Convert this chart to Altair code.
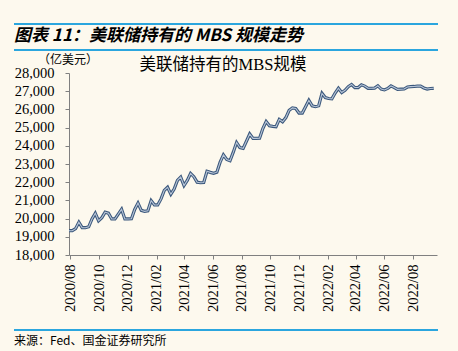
import altair as alt
import pandas as pd

# Weekly holdings of MBS by the Fed (100 million USD)
start_date = "2020-07-29"
values = [
    19335, 19335, 19450, 19800, 19500, 19500, 19550, 19980, 20290, 19880,
    20050, 20350, 20300, 19980, 19980, 20250, 20510, 19980, 19980, 19990,
    20500, 20850, 20450, 20400, 20430, 20990, 20750, 20750, 21080, 21550,
    21720, 21340, 21620, 22100, 22280, 21820, 22100, 22480, 22300, 22000,
    21970, 21980, 22600, 22540, 22490, 22550, 23100, 23500, 23250, 23180,
    23650, 24180, 23900, 23860, 24250, 24650, 24410, 24410, 24420, 24950,
    25330, 25100, 25070, 25050, 25450, 25320, 25550, 25950, 26080, 26050,
    25800, 25800, 26150, 26500, 26200, 26150, 26200, 26880, 26650, 26600,
    26580, 26900, 27160, 26930, 27050, 27250, 27370, 27200, 27200, 27350,
    27280, 27160, 27160, 27170, 27300, 27120, 27070, 27150, 27290, 27200,
    27100, 27110, 27120, 27230, 27250, 27260, 27280, 27280, 27180, 27120,
    27150, 27160,
]
dates = pd.date_range(start_date, periods=len(values), freq="7D")
df = pd.DataFrame({"date": dates.strftime("%Y-%m-%dT00:00:00"), "value": values})

tick_months = [(2020, 8), (2020, 10), (2020, 12), (2021, 2), (2021, 4), (2021, 6),
               (2021, 8), (2021, 10), (2021, 12), (2022, 2), (2022, 4), (2022, 6), (2022, 8)]
y_ticks = [18000, 19000, 20000, 21000, 22000, 23000, 24000, 25000, 26000, 27000, 28000]

title_text = "图表 11：美联储持有的 MBS 规模走势"
unit_text = "（亿美元）"
chart_title = "美联储持有的MBS规模"
source_text = "来源：Fed、国金证券研究所"

BG = "#FDF9EE"
BLUE = "#2BA6DE"
SERIF = "Liberation Serif, Times New Roman, Noto Sans CJK SC"
CJK = "Noto Sans CJK SC"

x_enc = alt.X(
    "date:T",
    scale=alt.Scale(domain=[alt.DateTime(year=2020, month=7, date=29),
                            alt.DateTime(year=2022, month=9, date=21)]),
    axis=alt.Axis(
        values=[alt.DateTime(year=y, month=m, date=1) for y, m in tick_months],
        format="%Y/%m", labelAngle=270, title=None, grid=False,
        labelFont=SERIF, labelFontSize=14.5, labelColor="#000",
        labelPadding=5, tickSize=4, tickColor="#808080",
        domainColor="#808080", labelAlign="right", labelBaseline="middle",
    ),
)
y_enc = alt.Y(
    "value:Q",
    scale=alt.Scale(domain=[18000, 28000], nice=False, zero=False),
    axis=alt.Axis(
        values=y_ticks, format=",d", title=None, grid=False,
        labelFont=SERIF, labelFontSize=14.5, labelColor="#000",
        labelPadding=11, tickSize=4, tickColor="#808080",
        domainColor="#808080",
    ),
)

outer = alt.Chart(df).mark_line(color="#3B587C", strokeWidth=3.2).encode(x=x_enc, y=y_enc)
inner = alt.Chart(df).mark_line(color="#B9C6D8", strokeWidth=1.1).encode(x=x_enc, y=y_enc)

one = alt.Data(values=[{"k": 1}])


def hline(y):
    return alt.Chart(one).mark_rule(color=BLUE, strokeWidth=2).encode(
        x=alt.value(-55), x2=alt.value(369), y=alt.value(y))


def label(text, x, y, size, font, align="left", weight="normal", style="normal"):
    return alt.Chart(one).mark_text(
        align=align, baseline="middle", fontSize=size, font=font,
        fontWeight=weight, fontStyle=style, color="#000",
    ).encode(x=alt.value(x), y=alt.value(y), text=alt.value(text))


layers = [
    outer, inner,
    hline(-49), hline(-23), hline(257),
    label(title_text, -55, -37, 17, CJK, weight="bold", style="italic"),
    label(unit_text, -31, -13, 12, SERIF),
    label(chart_title, 154, -8, 16.5, SERIF, align="center"),
    label(source_text, -55, 268, 12, CJK),
]

chart = alt.layer(*layers).properties(
    width=368, height=182,
    padding={"left": 69, "top": 73, "right": 21, "bottom": 96},
    autosize=alt.AutoSizeParams(type="none"),
    background=BG,
).configure_view(stroke=None)

chart.save("out.html", embed_options={"renderer": "svg", "actions": False})
